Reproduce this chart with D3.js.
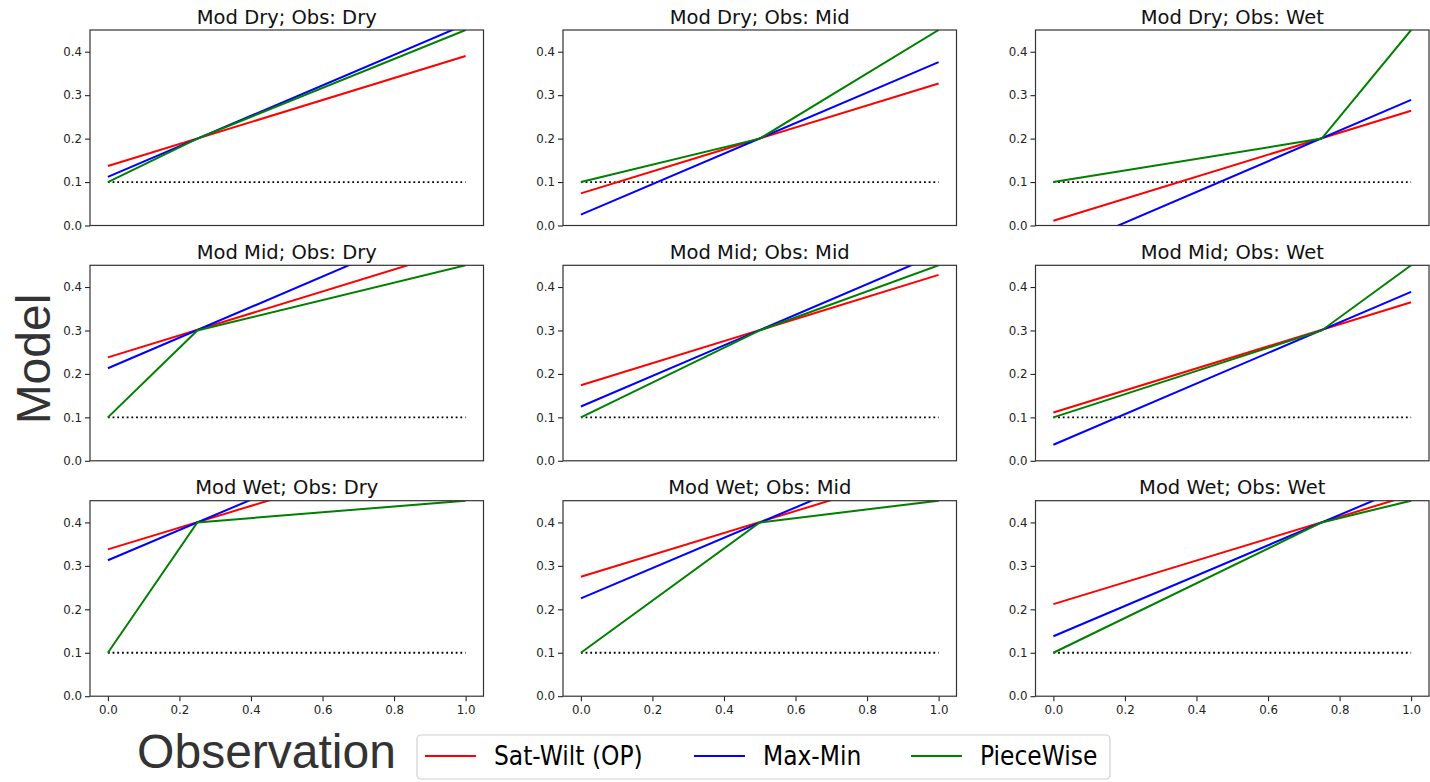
<!DOCTYPE html>
<html><head><meta charset="utf-8">
<script src="https://cdn.jsdelivr.net/npm/d3@7"></script>
<style>body{margin:0;background:#fff} svg{display:block}</style>
</head><body><svg id="c" width="1430" height="782"></svg>
<script>
// ---- data ----
const modCats = ["Dry", "Mid", "Wet"];
const obsCats = ["Dry", "Mid", "Wet"];
const modPivot = [0.2, 0.3, 0.4];          // model value at breakpoint (per row)
const obsPivot = [0.25, 0.5, 0.75];        // observation breakpoint (per column)
const wiltLevel = 0.1;
const satLevel = 0.45;
const satWiltStart = [[0.137, 0.074, 0.011], [0.238, 0.174, 0.111], [0.338, 0.275, 0.212]];
const satWiltEnd   = [[0.390, 0.327, 0.264], [0.491, 0.428, 0.365], [0.588, 0.527, 0.463]];
const maxMinStart  = [[0.112, 0.025, -0.064], [0.213, 0.125, 0.037], [0.313, 0.225, 0.138]];
const maxMinEnd    = [[0.463, 0.376, 0.289], [0.565, 0.477, 0.389], [0.661, 0.574, 0.487]];
const yTicks = [0, 0.1, 0.2, 0.3, 0.4];
const xTicks = [0, 0.2, 0.4, 0.6, 0.8, 1.0];
const seriesNames = ["Sat-Wilt (OP)", "Max-Min", "PieceWise"];
const seriesColors = ["#ff0000", "#0000ff", "#008000"];

// ---- layout ----
const svg = d3.select("#c");
const colLeft = [90, 563, 1035.5];
const rowTop = [30, 265.3, 500.7];
const W = 393.5, H = 195.5;
const x = d3.scaleLinear().domain([-0.05, 1.05]).range([0, W]);
const y = d3.scaleLinear().domain([0, 0.45]).range([H, 0]);
const line = d3.line().x(d => x(d[0])).y(d => y(d[1]));
const fmt = d3.format(".1f");

for (let r = 0; r < 3; r++) {
  for (let c = 0; c < 3; c++) {
    const g = svg.append("g").attr("transform", `translate(${colLeft[c]},${rowTop[r]})`);
    const cid = `clip${r}${c}`;
    g.append("clipPath").attr("id", cid).append("rect").attr("width", W).attr("height", H);
    const plot = g.append("g").attr("clip-path", `url(#${cid})`);

    // dotted wilting line
    plot.append("path").datum([[0, wiltLevel], [1, wiltLevel]])
      .attr("d", line).attr("fill", "none").attr("stroke", "#000")
      .attr("stroke-width", 1.8).attr("stroke-dasharray", "1.8,2.9");

    const series = [
      [[0, satWiltStart[r][c]], [1, satWiltEnd[r][c]]],
      [[0, maxMinStart[r][c]], [1, maxMinEnd[r][c]]],
      [[0, wiltLevel], [obsPivot[c], modPivot[r]], [1, satLevel]]
    ];
    series.forEach((s, i) => {
      plot.append("path").datum(s).attr("d", line).attr("fill", "none")
        .attr("stroke", seriesColors[i]).attr("stroke-width", 2);
    });

    // y axis
    const ya = g.append("g").call(d3.axisLeft(y).tickValues(yTicks).tickFormat(fmt).tickSize(5).tickPadding(3));
    ya.select(".domain").remove();
    ya.selectAll("line").attr("stroke", "#222").attr("stroke-width", 1.1);
    ya.selectAll("text").attr("font-family", "DejaVu Sans").attr("font-size", 11.8).attr("fill", "#222");

    if (r === 2) {
      const xa = g.append("g").attr("transform", `translate(0,${H})`)
        .call(d3.axisBottom(x).tickValues(xTicks).tickFormat(fmt).tickSize(5).tickPadding(4));
      xa.select(".domain").remove();
      xa.selectAll("line").attr("stroke", "#222").attr("stroke-width", 1.1);
      xa.selectAll("text").attr("font-family", "DejaVu Sans").attr("font-size", 11.8).attr("fill", "#222");
    }

    // frame
    g.append("rect").attr("width", W).attr("height", H).attr("fill", "none")
      .attr("stroke", "#333").attr("stroke-width", 1.2);

    // title
    g.append("text").attr("x", W / 2).attr("y", -6.5).attr("text-anchor", "middle")
      .attr("font-family", "DejaVu Sans").attr("font-size", 19.5).attr("fill", "#111")
      .text(`Mod ${modCats[r]}; Obs: ${obsCats[c]}`);
  }
}

// axis labels
svg.append("text").attr("transform", "translate(50,359) rotate(-90)").attr("text-anchor", "middle")
  .attr("font-family", "Liberation Sans, Arial, sans-serif").attr("font-size", 48).attr("fill", "#333")
  .text("Model");
svg.append("text").attr("x", 266.5).attr("y", 768).attr("text-anchor", "middle")
  .attr("font-family", "Liberation Sans, Arial, sans-serif").attr("font-size", 48).attr("fill", "#333")
  .text("Observation");

// legend
const lg = svg.append("g");
lg.append("rect").attr("x", 417).attr("y", 735).attr("width", 693).attr("height", 44).attr("rx", 4)
  .attr("fill", "#fff").attr("stroke", "#d0d0d0").attr("stroke-width", 1.2);
const legX = [425, 694, 911];
seriesNames.forEach((n, i) => {
  lg.append("line").attr("x1", legX[i]).attr("x2", legX[i] + 51).attr("y1", 756).attr("y2", 756)
    .attr("stroke", seriesColors[i]).attr("stroke-width", 2);
  lg.append("text").attr("x", legX[i] + 69).attr("y", 756).attr("dominant-baseline", "central")
    .attr("font-family", "DejaVu Sans Condensed, DejaVu Sans").attr("font-stretch", "condensed")
    .attr("font-size", 26).attr("fill", "#000").text(n);
});
</script></body></html>
